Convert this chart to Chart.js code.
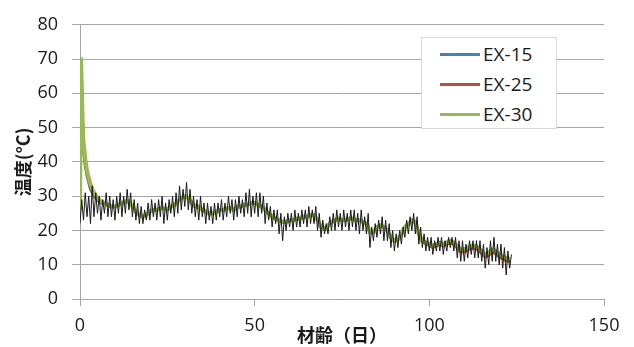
<!DOCTYPE html>
<html>
<head>
<meta charset="utf-8">
<script src="https://cdn.jsdelivr.net/npm/chart.js@4.4.1/dist/chart.umd.min.js"></script>
<style>
  html, body { margin: 0; padding: 0; background: #fff; }
  #wrap { position: relative; width: 634px; height: 347px; }
  #legend {
    position: absolute; left: 421px; top: 37px; width: 134px; height: 90px;
    border: 1px solid #d9d9d9; background: #fff;
    font-family: "Open Sans", sans-serif; font-size: 19px; color: #1a1a1a;
  }
  .row { position: absolute; left: 18px; height: 24px; display: flex; align-items: center; }
  .sw { width: 40px; height: 3px; margin-right: 3px; }
</style>
</head>
<body>
<div id="wrap">
  <canvas id="c" width="634" height="347"></canvas>
  <div id="legend"></div>
</div>
<script>
// ---------- data ----------
const SERIES_NAMES = ["EX-15", "EX-25", "EX-30"];
const SERIES_COLORS = ["#4a7ebb", "#be4b48", "#98b954"];

// first days (sub-daily) – heat of hydration peak
const EARLY_T   = [0, 0.3, 0.9, 1.5, 2, 3, 4, 5, 6];
const EX15_EARLY = [26, 68, 44.5, 39, 36, 32, 30, 29, 28];
const EX25_EARLY = [26, 69, 45, 39.5, 36.5, 32.5, 30.5, 29, 28.3];
const EX30_EARLY = [26, 70, 47, 41, 37.5, 33.5, 31, 29.5, 28.5];

// daily values from day 7 to day 123
const DAILY_START = 7;
const EX30_DAILY = [
  28, 27.5, 27,
  27, 27.5, 28, 28.5, 28.5, 27, 25.5, 24.5, 24, 24.5,
  25.5, 26, 26, 26.5, 26.5, 26, 27, 27.5, 28.5, 29.5,
  30, 29.5, 28, 27, 27, 26, 25.5, 25, 25, 25.5,
  26, 26, 26.5, 26.5, 26, 27, 27, 27.5, 27.5, 28,
  28, 27.5, 27, 26, 25, 24, 23.5, 23, 22.5, 22.5,
  23, 23, 23.5, 23.5, 24, 24, 24.5, 24.5, 23, 21,
  20.5, 21.5, 22.5, 23, 23.5, 23, 23, 23.5, 23.5, 23,
  23, 22.5, 22, 19.5, 19.5, 21, 21.5, 21, 20, 18,
  17, 17.5, 19, 21, 22, 23, 22.5, 19, 17, 16.5,
  16, 15.5, 16, 16.5, 16, 16.5, 17, 16.5, 15.5, 14.5,
  14.5, 15, 15.5, 15.5, 15, 14, 13, 13.5, 14.5, 14,
  13, 12.5, 12, 11.5
];
const EX25_DAILY = [
  28, 27.4, 27,
  27, 27.4, 28, 28.4, 28.4, 27, 25.5, 24.5, 24, 24.4,
  25.4, 26, 26, 26.4, 26.4, 26, 26.9, 27.4, 28.4, 29.4,
  29.9, 29.4, 28, 27, 26.9, 26, 25.4, 25, 25, 25.4,
  25.9, 26, 26.4, 26.4, 26, 26.9, 27, 27.4, 27.4, 27.9,
  27.9, 27.4, 26.9, 26, 25, 24, 23.4, 23, 22.4, 22.4,
  22.9, 23, 23.4, 23.4, 23.9, 24, 24.4, 24.4, 23, 21,
  20.4, 21.4, 22.4, 22.9, 23.4, 23, 22.9, 23.4, 23.4, 22.9,
  22.9, 22.4, 21.9, 19.4, 19.4, 20.9, 21.4, 20.9, 19.9, 17.8,
  16.8, 17.3, 18.8, 20.8, 21.8, 22.8, 22.3, 18.8, 16.7, 16.2,
  15.6, 15.1, 15.5, 16, 15.5, 16, 16.4, 16, 14.9, 13.8,
  13.8, 14.3, 14.8, 14.8, 14.3, 13.3, 12.3, 12.8, 13.7, 13.3,
  12.3, 11.8, 11.2, 10.8
];
const EX15_DAILY = [
  27.9, 27.4, 26.9,
  26.9, 27.4, 27.9, 28.4, 28.4, 26.9, 25.4, 24.4, 23.9, 24.4,
  25.4, 25.9, 25.9, 26.4, 26.4, 25.9, 26.9, 27.4, 28.4, 29.4,
  29.9, 29.4, 27.9, 26.9, 26.9, 25.9, 25.4, 24.9, 24.9, 25.4,
  25.9, 25.9, 26.4, 26.4, 25.9, 26.9, 26.9, 27.4, 27.4, 27.9,
  27.9, 27.4, 26.9, 25.9, 24.9, 23.9, 23.4, 22.9, 22.4, 22.4,
  22.9, 22.9, 23.4, 23.4, 23.9, 23.9, 24.4, 24.4, 22.9, 20.9,
  20.4, 21.4, 22.4, 22.9, 23.4, 22.9, 22.9, 23.4, 23.4, 22.9,
  22.9, 22.4, 21.9, 19.4, 19.4, 20.9, 21.4, 20.9, 19.9, 17.9,
  16.9, 17.4, 18.9, 20.9, 21.9, 22.9, 22.4, 18.9, 16.9, 16.4,
  15.9, 15.4, 15.9, 16.4, 15.9, 16.4, 16.9, 16.4, 15.4, 14.4,
  14.4, 14.9, 15.4, 15.4, 14.9, 13.9, 12.9, 13.4, 14.4, 13.9,
  12.9, 12.4, 11.9, 11.4
];

// ambient temperature: daily minimum and maximum, days 0..123
const AMB_LO = [
  22, 23, 24, 22, 24, 25, 23, 25, 24, 24,
  23, 25, 24, 25, 26, 24, 23, 22, 22, 23,
  23, 24, 23, 24, 22, 23, 25, 24, 25, 26,
  27, 26, 25, 24, 23, 24, 22, 23, 22, 23,
  24, 23, 24, 25, 23, 24, 25, 24, 25, 24,
  25, 24, 25, 22, 23, 21, 22, 19, 17, 20,
  21, 20, 21, 21, 22, 21, 22, 22, 20, 18,
  19, 19, 20, 20, 21, 20, 21, 20, 21, 20,
  19, 20, 19, 15, 17, 18, 19, 17, 17, 15,
  14, 15, 16, 18, 19, 20, 19, 16, 15, 14,
  14, 13, 14, 14, 13, 14, 15, 14, 12, 11,
  11, 12, 13, 12, 12, 11, 9, 10, 11, 11,
  10, 9, 7, 9
];
const AMB_HI = [
  29, 31, 30, 33, 31, 30, 29, 31, 30, 29,
  30, 31, 30, 32, 31, 29, 28, 27, 26, 28,
  29, 28, 29, 30, 28, 29, 30, 31, 33, 32,
  34, 32, 30, 29, 30, 28, 28, 27, 28, 28,
  29, 28, 30, 29, 29, 30, 29, 31, 32, 30,
  31, 31, 30, 28, 27, 26, 26, 25, 24, 25,
  25, 26, 25, 26, 26, 27, 26, 27, 25, 23,
  22, 24, 25, 26, 25, 26, 25, 26, 26, 25,
  26, 24, 25, 21, 22, 23, 24, 23, 22, 20,
  19, 20, 21, 23, 24, 25, 24, 21, 19, 18,
  18, 17, 18, 18, 17, 18, 18, 18, 17, 17,
  16, 17, 17, 17, 17, 16, 15, 17, 18, 16,
  16, 15, 14, 13
];

const X_TICKS = [0, 50, 100, 150];
const Y_MIN = 0, Y_MAX = 80, Y_STEP = 10;

// ---------- build point lists ----------
function seriesPoints(early, daily) {
  const pts = EARLY_T.map((t, i) => ({ x: t, y: early[i] }));
  daily.forEach((v, i) => pts.push({ x: DAILY_START + i, y: v }));
  return pts;
}
const ambPts = [];
AMB_LO.forEach((lo, d) => {
  ambPts.push({ x: d, y: lo });
  ambPts.push({ x: d + 0.5, y: AMB_HI[d] });
});

const GRID = "#a6a6a6";
const tickFont = { family: "'Open Sans', sans-serif", size: 18 };
const titleFont = { family: "'Noto Sans CJK JP', sans-serif", size: 18, weight: "bold" };

new Chart(document.getElementById("c"), {
  type: "line",
  data: {
    datasets: [
      { label: "外気温", data: ambPts, borderColor: "#1a1a1a", borderWidth: 1, order: 0 },
      { label: SERIES_NAMES[2], data: seriesPoints(EX30_EARLY, EX30_DAILY), borderColor: SERIES_COLORS[2], borderWidth: 4, order: 1 },
      { label: SERIES_NAMES[1], data: seriesPoints(EX25_EARLY, EX25_DAILY), borderColor: SERIES_COLORS[1], borderWidth: 3, order: 2 },
      { label: SERIES_NAMES[0], data: seriesPoints(EX15_EARLY, EX15_DAILY), borderColor: SERIES_COLORS[0], borderWidth: 3, order: 3 }
    ]
  },
  options: {
    responsive: false,
    animation: false,
    parsing: false,
    elements: { point: { radius: 0 }, line: { tension: 0, borderJoinStyle: "round" } },
    layout: { padding: { top: 13, right: 30, left: 0, bottom: 0 } },
    plugins: { legend: { display: false }, tooltip: { enabled: false } },
    scales: {
      x: {
        type: "linear", min: 0, max: 150,
        afterBuildTicks: (s) => { s.ticks = X_TICKS.map(v => ({ value: v })); },
        afterFit: (s) => { s.height = 48; },
        ticks: { font: tickFont, color: "#1a1a1a", padding: 9, maxRotation: 0 },
        grid: { drawOnChartArea: false, drawTicks: true, tickLength: 7, color: GRID, lineWidth: 1 },
        border: { display: true, color: GRID, width: 1 },
        title: { display: true, text: "材齢（日）", font: titleFont, color: "#1a1a1a", padding: { top: 0, bottom: 1 } }
      },
      y: {
        min: Y_MIN, max: Y_MAX,
        ticks: { stepSize: Y_STEP, font: tickFont, color: "#1a1a1a", padding: 14 },
        afterFit: (s) => { s.width = 80; },
        grid: { color: GRID, lineWidth: 1, tickLength: 8 },
        border: { display: true, color: GRID, width: 1 },
        title: { display: true, text: "温度(°C)", font: titleFont, color: "#1a1a1a", padding: { top: 12, bottom: 0 } }
      }
    }
  }
});

// ---------- legend (HTML text) ----------
const legend = document.getElementById("legend");
SERIES_NAMES.forEach((name, i) => {
  const row = document.createElement("div");
  row.className = "row";
  row.style.top = (4 + i * 30) + "px";
  const sw = document.createElement("span");
  sw.className = "sw";
  sw.style.background = SERIES_COLORS[i];
  const tx = document.createElement("span");
  tx.textContent = name;
  row.appendChild(sw); row.appendChild(tx);
  legend.appendChild(row);
});
</script>
</body>
</html>
